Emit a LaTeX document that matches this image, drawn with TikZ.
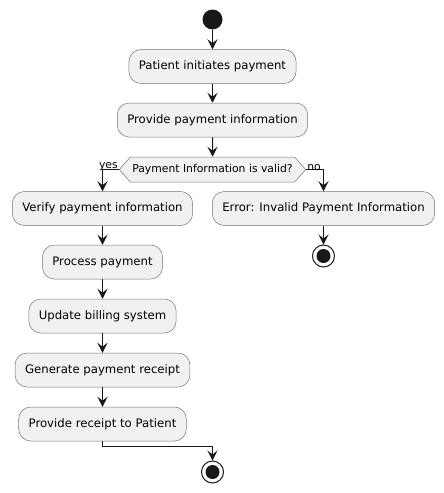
\documentclass[tikz,border=0pt]{standalone}
\usepackage{fontspec}
\setmainfont{DejaVu Sans}
\usetikzlibrary{arrows.meta,shapes.symbols}

\definecolor{umlfill}{HTML}{F1F1F1}
\definecolor{umlline}{HTML}{181818}

\tikzstyle{action}=[draw=umlline!60, fill=umlfill, line width=0.5pt, rounded corners=12pt, minimum height=34pt, inner xsep=10pt, font=\fontsize{11.7}{13}\selectfont]
\tikzstyle{choice}=[draw=umlline!60, fill=umlfill, line width=0.5pt, signal, signal to=west and east, signal pointer angle=97, minimum height=25pt, inner xsep=2pt, font=\fontsize{10.8}{12}\selectfont]
\tikzstyle{flow}=[draw=umlline, line width=1pt, -{Stealth[length=10pt,width=10pt,inset=4pt]}]
\tikzstyle{guard}=[font=\fontsize{10.8}{12}\selectfont, inner sep=0pt]
\tikzstyle{startdot}=[circle, fill=umlline, minimum size=20pt, inner sep=0pt]
\tikzstyle{stopdot}=[circle, draw=umlline, fill=white, line width=1pt, minimum size=22pt, inner sep=0pt]

\begin{document}
\begin{tikzpicture}[x=1pt, y=-1pt]
    \useasboundingbox (0,0) rectangle (444,493);
    % First we place the actions
    \node[startdot] (start) at (212.5,19.5) {};
    \foreach \pos/\name/\text in {{(212.5,66.5)/patient/Patient initiates payment},
        {(212.5,120)/info/Provide payment information},
        {(102.5,208.5)/verify/Verify payment information},
        {(323.5,208.5)/error/Error: Invalid Payment Information},
        {(102.5,262)/process/Process payment},
        {(102.5,316)/billing/Update billing system},
        {(102.5,370)/receipt/Generate payment receipt},
        {(102.5,424)/give/Provide receipt to Patient}}
        \node[action] (\name) at \pos {\text};
    \node[choice] (valid) at (212.5,169.5) {Payment Information is valid?};
    \node[stopdot] (stopr) at (323.5,256) {};
    \fill[umlline] (stopr) circle (7);
    \node[stopdot] (stopl) at (212.5,472) {};
    \fill[umlline] (stopl) circle (7);

    % Connect the actions with flows
    \foreach \source/\dest in {start/patient, patient/info, info/valid, verify/process,
        process/billing, billing/receipt, receipt/give, error/stopr}
        \path[flow] (\source) -- (\dest);
    \path[flow] (valid.west) -| (verify.north);
    \path[flow] (valid.east) -| (error.north);
    \path[flow] (give.south) -- ++(0,5) -| (stopl.north);

    \node[guard, anchor=south east] (yes) at ([xshift=-1pt,yshift=-1pt]valid.west) {yes};
    \node[guard, anchor=south west] (no) at ([xshift=1pt,yshift=-1pt]valid.east) {no};
\end{tikzpicture}
\end{document}
